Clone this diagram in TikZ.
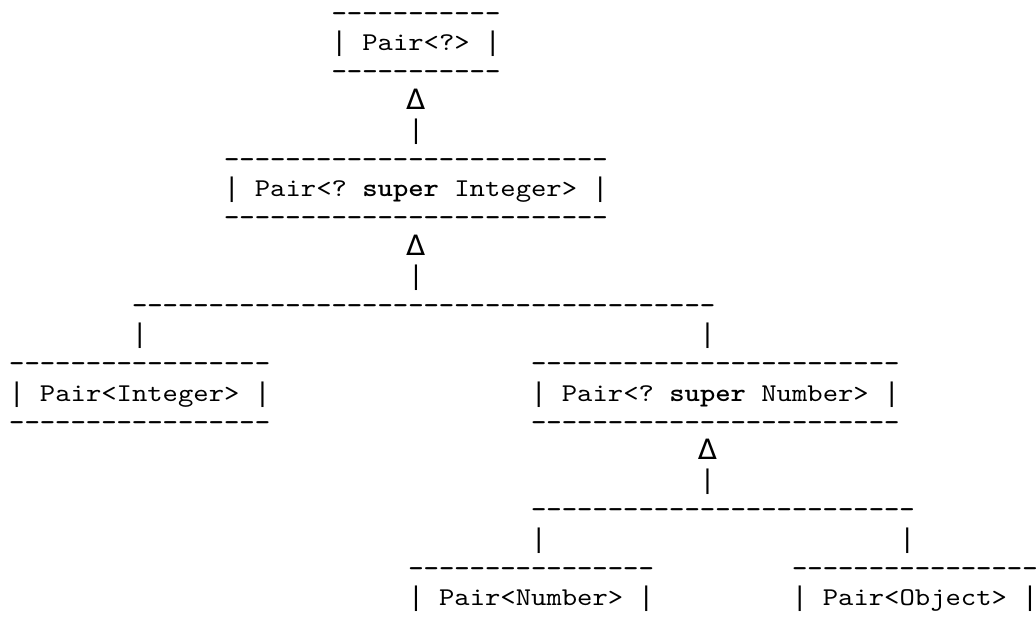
\documentclass[tikz,border=0pt]{standalone}
\usepackage{fontspec}
\setmonofont{lmmono10-regular}[Extension=.otf,BoldFont=lmmonolt10-bold,FakeStretch=1.142]
\newfontfamily\deltafont{DejaVu Sans}
\newfontfamily\barfont{DejaVu Sans Mono}
\newcommand{\dashes}[1]{{\bfseries\foreach\k in {1,...,#1}{-}}}
\newcommand{\vbar}{{\barfont|}}
\newcommand{\asciirow}[4]{%
  \node[asc] (#3) at ({9+#2*15.35},{-21.5-(#1-1)*29.2}) {#4};
}
\newcommand{\uptip}[3]{%
  \node[tip] (#3) at ({9+(#2+.5)*15.35},{-21.5-(#1-1)*29.2}) {Δ};
}

\begin{document}
\begin{tikzpicture}[x=1pt,y=1pt,
    asc/.style={inner sep=0pt,anchor=base west,font=\ttfamily\fontsize{25.6}{29.2}\selectfont},
    tip/.style={inner sep=0pt,anchor=base,font=\deltafont\fontsize{28}{32}\selectfont}]
  \useasboundingbox (0,0) rectangle (1036,-624);
  % Pair<?>
  \asciirow{1}{21}{wildTop}{\dashes{11}}
  \asciirow{2}{21}{wild}{\vbar{} Pair<?> \vbar}
  \asciirow{3}{21}{wildBot}{\dashes{11}}
  \uptip{4}{26}{tipA}
  \asciirow{5}{26}{barA}{\vbar}
  % Pair<? super Integer>
  \asciirow{6}{14}{supIntTop}{\dashes{25}}
  \asciirow{7}{14}{supInt}{\vbar{} Pair<? \textbf{super} Integer> \vbar}
  \asciirow{8}{14}{supIntBot}{\dashes{25}}
  \uptip{9}{26}{tipB}
  \asciirow{10}{26}{barB}{\vbar}
  \asciirow{11}{8}{forkA}{\dashes{38}}
  \asciirow{12}{8}{forkAl}{\vbar}
  \asciirow{12}{45}{forkAr}{\vbar}
  % Pair<Integer> and Pair<? super Number>
  \asciirow{13}{0}{intTop}{\dashes{17}}
  \asciirow{14}{0}{int}{\vbar{} Pair<Integer> \vbar}
  \asciirow{15}{0}{intBot}{\dashes{17}}
  \asciirow{13}{34}{supNumTop}{\dashes{24}}
  \asciirow{14}{34}{supNum}{\vbar{} Pair<? \textbf{super} Number> \vbar}
  \asciirow{15}{34}{supNumBot}{\dashes{24}}
  \uptip{16}{45}{tipC}
  \asciirow{17}{45}{barC}{\vbar}
  \asciirow{18}{34}{forkB}{\dashes{25}}
  \asciirow{19}{34}{forkBl}{\vbar}
  \asciirow{19}{58}{forkBr}{\vbar}
  % Pair<Number> and Pair<Object>
  \asciirow{20}{26}{numTop}{\dashes{16}}
  \asciirow{21}{26}{num}{\vbar{} Pair<Number> \vbar}
  \asciirow{20}{51}{objTop}{\dashes{16}}
  \asciirow{21}{51}{obj}{\vbar{} Pair<Object> \vbar}
\end{tikzpicture}
\end{document}
